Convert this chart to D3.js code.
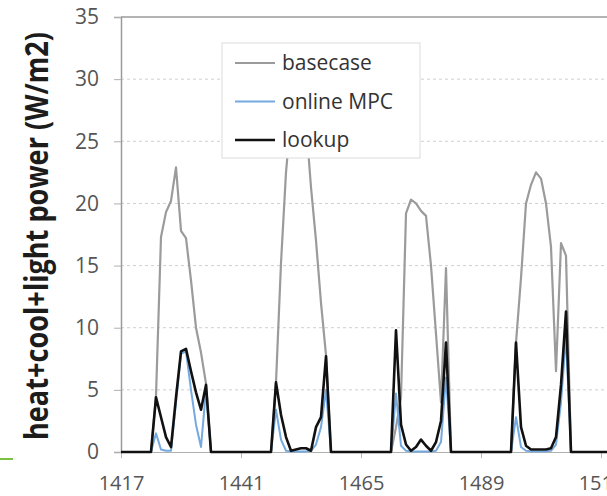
<!DOCTYPE html>
<html>
<head>
<meta charset="utf-8">
<script src="https://cdn.jsdelivr.net/npm/d3@7"></script>
<style>
  html, body { margin: 0; padding: 0; background: #fff; }
  svg { display: block; }
  text { font-family: "Open Sans", "DejaVu Sans", sans-serif; }
</style>
</head>
<body>
<svg id="chart" width="607" height="496"></svg>
<script>
// Hourly simulation steps shown on the x axis
const hours = d3.range(1417, 1516);
const xTickValues = [1417, 1441, 1465, 1489, 1513];
const yTickValues = [0, 5, 10, 15, 20, 25, 30, 35];
const seriesNames = ["basecase", "online MPC", "lookup"];

// heat+cool+light power (W/m2), one value per hour
const basecase = [
  0, 0, 0, 0, 0, 0, 0, 4.5, 17.3, 19.3, 20.2, 22.9, 17.8, 17.2, 13.8, 10.0, 8.0, 5.5, 0, 0, 0, 0, 0, 0,
  0, 0, 0, 0, 0, 0, 0, 5.6, 15.2, 22.5, 27.0, 29.5, 29.0, 26.5, 21.3, 17.0, 12.0, 7.8, 0, 0, 0, 0, 0, 0,
  0, 0, 0, 0, 0, 0, 0, 2.0, 4.4, 19.2, 20.3, 20.0, 19.4, 19.0, 15.0, 9.5, 4.0, 14.8, 0, 0, 0, 0, 0, 0,
  0, 0, 0, 0, 0, 0, 0, 8.8, 14.0, 20.0, 21.5, 22.5, 22.0, 20.0, 16.5, 6.5, 16.8, 15.8, 0, 0, 0, 0, 0, 0,
  0, 0, 0
];
const onlineMPC = [
  0, 0, 0, 0, 0, 0, 0, 1.5, 0.2, 0.1, 0.1, 4.0, 7.9, 8.1, 5.0, 2.2, 0.4, 5.0, 0, 0, 0, 0, 0, 0,
  0, 0, 0, 0, 0, 0, 0, 3.4, 1.0, 0.1, 0.05, 0.05, 0.05, 0.05, 0.1, 0.6, 2.0, 5.0, 0, 0, 0, 0, 0, 0,
  0, 0, 0, 0, 0, 0, 0, 4.7, 0.5, 0.1, 0.05, 0.05, 0.05, 0.05, 0.05, 0.1, 0.8, 6.0, 0, 0, 0, 0, 0, 0,
  0, 0, 0, 0, 0, 0, 0, 2.8, 0.4, 0.1, 0.05, 0.05, 0.05, 0.05, 0.1, 0.6, 4.0, 9.3, 0, 0, 0, 0, 0, 0,
  0, 0, 0
];
const lookup = [
  0, 0, 0, 0, 0, 0, 0, 4.4, 2.8, 1.2, 0.4, 4.4, 8.1, 8.3, 6.5, 4.8, 3.4, 5.4, 0, 0, 0, 0, 0, 0,
  0, 0, 0, 0, 0, 0, 0, 5.6, 3.0, 1.2, 0.1, 0.2, 0.3, 0.3, 0.1, 2.0, 2.8, 7.7, 0, 0, 0, 0, 0, 0,
  0, 0, 0, 0, 0, 0, 0, 9.8, 2.2, 0.6, 0.1, 0.4, 1.0, 0.5, 0.1, 0.8, 2.5, 8.8, 0, 0, 0, 0, 0, 0,
  0, 0, 0, 0, 0, 0, 0, 8.8, 2.0, 0.5, 0.2, 0.2, 0.2, 0.2, 0.3, 1.2, 5.4, 11.3, 0, 0, 0, 0, 0, 0,
  0, 0, 0
];

const seriesValues = [basecase, onlineMPC, lookup];
const seriesColors = ["#9b9b9b", "#74aae0", "#111111"];
const seriesWidths = [2.2, 2.0, 2.6];

const svg = d3.select("#chart");

// Plot area runs on past the right edge of the page
const x = d3.scaleLinear().domain([1417, 1537]).range([121, 721]);
const y = d3.scaleLinear().domain([0, 35]).range([452, 17]);

// Dotted horizontal gridlines
svg.append("g")
  .selectAll("line")
  .data(yTickValues.filter(v => v > 0 && v < 35))
  .join("line")
  .attr("x1", x(1417)).attr("x2", 607)
  .attr("y1", d => y(d)).attr("y2", d => y(d))
  .attr("stroke", "#cfcfcf")
  .attr("stroke-width", 1)
  .attr("stroke-dasharray", "3,3");

// Top frame line
svg.append("line")
  .attr("x1", x(1417)).attr("x2", 607)
  .attr("y1", y(35)).attr("y2", y(35))
  .attr("stroke", "#9a9a9a").attr("stroke-width", 1.5);

// Y axis
const yAxis = svg.append("g")
  .attr("transform", `translate(${x(1417)},0)`)
  .call(d3.axisLeft(y).tickValues(yTickValues).tickSize(7).tickPadding(15));
yAxis.select(".domain").attr("stroke", "#9a9a9a").attr("stroke-width", 1.5);
yAxis.selectAll(".tick line").attr("stroke", "#b0b0b0");
yAxis.selectAll(".tick text")
  .attr("fill", "#555")
  .style("font-size", "21px")
  .style("font-family", "'Open Sans', sans-serif");

// X axis
const xAxis = svg.append("g")
  .attr("transform", `translate(0,${y(0)})`)
  .call(d3.axisBottom(x).tickValues(xTickValues).tickFormat(d3.format("d"))
    .tickSize(6).tickPadding(18));
xAxis.select(".domain").attr("stroke", "#b0b0b0");
xAxis.selectAll(".tick line").attr("stroke", "#b8b8b8");
xAxis.selectAll(".tick text")
  .attr("fill", "#555")
  .style("font-size", "20px")
  .style("font-family", "'Open Sans', sans-serif");

// Series lines
const line = d3.line()
  .x((d, i) => x(hours[i]))
  .y(d => y(d));

svg.append("g")
  .selectAll("path")
  .data(seriesValues)
  .join("path")
  .attr("d", d => line(d))
  .attr("fill", "none")
  .attr("stroke", (d, i) => seriesColors[i])
  .attr("stroke-width", (d, i) => seriesWidths[i])
  .attr("stroke-linejoin", "round");

// Legend box
const legend = svg.append("g");
legend.append("rect")
  .attr("x", 222).attr("y", 43)
  .attr("width", 198).attr("height", 115)
  .attr("fill", "#fff")
  .attr("stroke", "#dcdcdc");
const rows = legend.selectAll("g.row")
  .data(seriesNames)
  .join("g")
  .attr("class", "row")
  .attr("transform", (d, i) => `translate(235,${63 + i * 38.5})`);
rows.append("line")
  .attr("x1", 0).attr("x2", 40)
  .attr("stroke", (d, i) => seriesColors[i])
  .attr("stroke-width", (d, i) => seriesWidths[i]);
rows.append("text")
  .attr("x", 47)
  .attr("dy", "0.35em")
  .attr("fill", "#333")
  .style("font-size", "21px")
  .text(d => d);

// Y axis title
svg.append("text")
  .attr("transform", "translate(48,236) rotate(-90)")
  .attr("text-anchor", "middle")
  .attr("textLength", 408)
  .attr("lengthAdjust", "spacingAndGlyphs")
  .attr("fill", "#1c1c1c")
  .style("font-size", "33px")
  .style("font-weight", "bold")
  .text("heat+cool+light power (W/m2)");

// Short green rule at the lower left
svg.append("line")
  .attr("x1", 0).attr("x2", 13)
  .attr("y1", 459).attr("y2", 459)
  .attr("stroke", "#7cc242")
  .attr("stroke-width", 2);
</script>
</body>
</html>
